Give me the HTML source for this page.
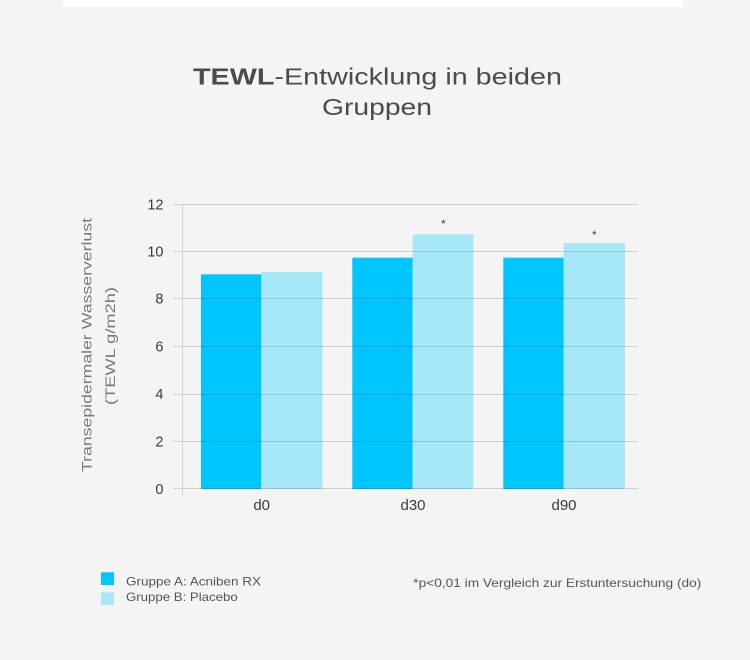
<!DOCTYPE html>
<html>
<head>
<meta charset="utf-8">
<style>
  html, body { margin: 0; padding: 0; }
  body { width: 750px; height: 660px; background: #f4f4f5; overflow: hidden; }
  svg { display: block; }
  text { font-family: "Liberation Sans", "DejaVu Sans", sans-serif; }
</style>
</head>
<body>
<svg width="750" height="660" viewBox="0 0 750 660" xmlns="http://www.w3.org/2000/svg">
  <rect x="0" y="0" width="750" height="660" fill="#f4f4f5"/>
  <!-- top white strip -->
  <rect x="63" y="0" width="620" height="7" fill="#ffffff"/>

  <!-- Title -->
  <text x="193" y="84.3" font-size="23" fill="#4b4b4d" textLength="369" lengthAdjust="spacingAndGlyphs"><tspan font-weight="bold">TEWL</tspan>-Entwicklung in beiden</text>
  <text x="322" y="115" font-size="23" fill="#4b4b4d" textLength="110" lengthAdjust="spacingAndGlyphs">Gruppen</text>

  <!-- Y axis title -->
  <text transform="translate(91.7,345) rotate(-90)" text-anchor="middle" font-size="13.5" fill="#7a7a7a" textLength="254" lengthAdjust="spacingAndGlyphs">Transepidermaler Wasserverlust</text>
  <text transform="translate(115,346) rotate(-90)" text-anchor="middle" font-size="13.5" fill="#7a7a7a" textLength="118" lengthAdjust="spacingAndGlyphs">(TEWL g/m2h)</text>

  <!-- Bars -->
  <rect x="201" y="274.3" width="60.3" height="214.7" fill="#00c6ff"/>
  <rect x="261.3" y="272" width="61" height="217" fill="#a6e7f8"/>
  <rect x="352.3" y="257.7" width="60.4" height="231.3" fill="#00c6ff"/>
  <rect x="412.7" y="234.3" width="60.6" height="254.7" fill="#a6e7f8"/>
  <rect x="503.3" y="257.7" width="60.4" height="231.3" fill="#00c6ff"/>
  <rect x="563.7" y="243" width="61.3" height="246" fill="#a6e7f8"/>

  <!-- Gridlines (drawn over bars) -->
  <g stroke="#000000" stroke-opacity="0.15" stroke-width="1">
    <line x1="173" y1="204.5" x2="638" y2="204.5"/>
    <line x1="173" y1="251.5" x2="638" y2="251.5"/>
    <line x1="173" y1="298.5" x2="638" y2="298.5"/>
    <line x1="173" y1="346.5" x2="638" y2="346.5"/>
    <line x1="173" y1="394.5" x2="638" y2="394.5"/>
    <line x1="173" y1="441.5" x2="638" y2="441.5"/>
    <line x1="173" y1="488.5" x2="638" y2="488.5"/>
  </g>
  <!-- Vertical axis -->
  <line x1="182.5" y1="204" x2="182.5" y2="497" stroke="#d2d2d2" stroke-width="1"/>

  <!-- Y tick labels -->
  <g font-size="14.5" fill="#3a3a3a" text-anchor="end">
    <text x="163.5" y="209.5">12</text>
    <text x="163.5" y="256.7">10</text>
    <text x="163.5" y="303.7">8</text>
    <text x="163.5" y="351.7">6</text>
    <text x="163.5" y="399.2">4</text>
    <text x="163.5" y="446.7">2</text>
    <text x="163.5" y="494.2">0</text>
  </g>

  <!-- X labels -->
  <g font-size="15" fill="#3a3a3a" text-anchor="middle">
    <text x="261.7" y="510">d0</text>
    <text x="413" y="510">d30</text>
    <text x="564" y="510">d90</text>
  </g>

  <!-- Asterisks -->
  <g font-size="12" fill="#444444" text-anchor="middle">
    <text x="443.3" y="227.8">*</text>
    <text x="594.3" y="238.8">*</text>
  </g>

  <!-- Legend -->
  <rect x="101" y="572.3" width="13" height="12.7" fill="#00c6ff"/>
  <rect x="101" y="592.3" width="13" height="12.7" fill="#a6e7f8"/>
  <text x="126" y="585.7" font-size="12" fill="#555555" textLength="135" lengthAdjust="spacingAndGlyphs">Gruppe A: Acniben RX</text>
  <text x="126" y="601" font-size="12" fill="#555555" textLength="111.7" lengthAdjust="spacingAndGlyphs">Gruppe B: Placebo</text>

  <!-- Footnote -->
  <text x="413.3" y="587" font-size="12" fill="#555555" textLength="288" lengthAdjust="spacingAndGlyphs">*p&lt;0,01 im Vergleich zur Erstuntersuchung (do)</text>
</svg>
</body>
</html>
